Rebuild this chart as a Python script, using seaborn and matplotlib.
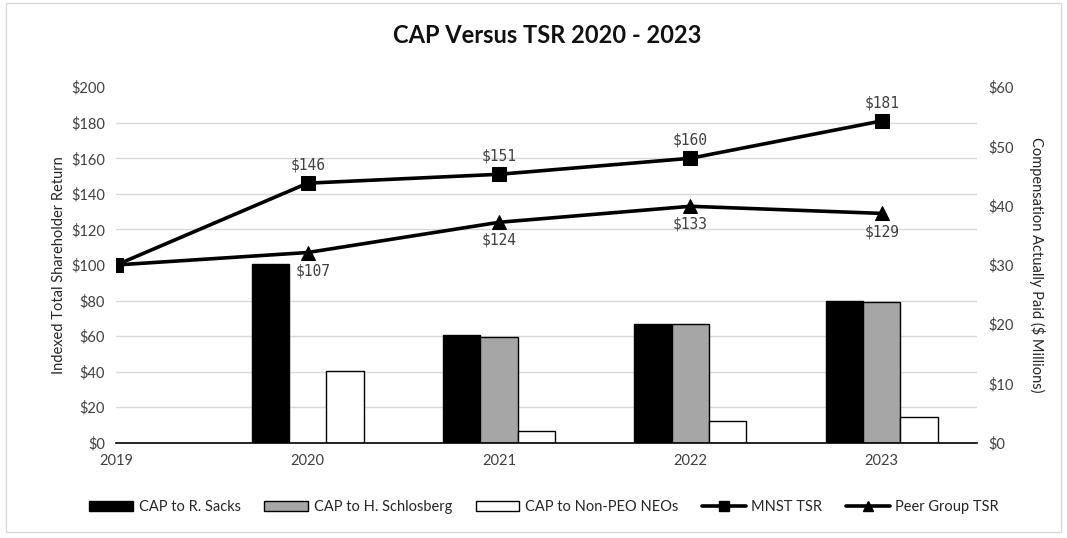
import matplotlib
matplotlib.use("Agg")
import matplotlib.pyplot as plt
import matplotlib.patches as mpatches
from matplotlib.lines import Line2D
import seaborn as sns
import pandas as pd
import numpy as np

years = ["2019", "2020", "2021", "2022", "2023"]
cap_sacks = [np.nan, 30.2, 18.1, 20.1, 24.0]
cap_schlosberg = [np.nan, np.nan, 17.9, 20.1, 23.7]
cap_neos = [np.nan, 12.1, 2.0, 3.7, 4.3]
mnst_tsr = [100, 146, 151, 160, 181]
peer_tsr = [100, 107, 124, 133, 129]
bar_series = ["CAP to R. Sacks", "CAP to H. Schlosberg", "CAP to Non-PEO NEOs"]
bar_colors = ["#000000", "#a6a6a6", "#ffffff"]

sns.set_theme(style="white")
plt.rcParams["font.family"] = ["Lato", "DejaVu Sans"]

rows = []
for name, vals in zip(bar_series, [cap_sacks, cap_schlosberg, cap_neos]):
    for y, v in zip(years, vals):
        rows.append({"year": y, "series": name, "value": v})
bars_df = pd.DataFrame(rows)

fig = plt.figure(figsize=(10.67, 5.38), dpi=100)
ax = fig.add_axes([0.109, 0.177, 0.807, 0.661])
ax2 = ax.twinx()

sns.barplot(data=bars_df, x="year", y="value", hue="series", order=years,
            hue_order=bar_series, palette=bar_colors, width=0.585,
            edgecolor="black", linewidth=1.0, ax=ax2, legend=False, errorbar=None)

xpos = np.arange(len(years))
line_df = pd.DataFrame({"x": xpos, "MNST TSR": mnst_tsr, "Peer Group TSR": peer_tsr})
sns.lineplot(data=line_df, x="x", y="MNST TSR", ax=ax, color="black", lw=2.6,
             marker="s", markersize=9.5, markeredgecolor="black")
sns.lineplot(data=line_df, x="x", y="Peer Group TSR", ax=ax, color="black", lw=2.6,
             marker="^", markersize=9.5, markeredgecolor="black")

for i in range(1, len(years)):
    ax.text(xpos[i], mnst_tsr[i] + 6, f"${mnst_tsr[i]}", ha="center", va="bottom",
            fontsize=10.5, color="#404040", family="DejaVu Sans Mono")
    dx = 0.03 if i == 1 else 0
    ax.text(xpos[i] + dx, peer_tsr[i] - 6, f"${peer_tsr[i]}", ha="center", va="top",
            fontsize=10.5, color="#404040", family="DejaVu Sans Mono")

ax.set_zorder(ax2.get_zorder() + 1)
ax.patch.set_visible(False)

ax.set_xlim(0, 4.5)
ax.set_ylim(0, 200)
ax2.set_ylim(0, 60)
ax.set_yticks(range(0, 201, 20))
ax.set_yticklabels([f"${v}" for v in range(0, 201, 20)], fontsize=10.5, color="#404040")
ax2.set_yticks(range(0, 61, 10))
ax2.set_yticklabels([f"${v}" for v in range(0, 61, 10)], fontsize=10.5, color="#404040")
ax2.set_yticks(range(0, 61, 6), minor=True)
ax.set_xticks(xpos)
ax.set_xticklabels(years, fontsize=10.5, color="#404040")
ax.tick_params(axis="both", which="both", length=0, pad=8)
ax2.tick_params(axis="both", which="both", length=0, pad=8)
ax2.set_xlabel("")
ax.set_xlabel("")
ax.set_ylabel("Indexed Total Shareholder Return", fontsize=10.5, color="#262626")
ax2.set_ylabel("Compensation Actually Paid ($ Millions)", fontsize=10.5, color="#262626",
               rotation=270, labelpad=22)

ax.grid(False)
ax2.grid(axis="y", which="minor", color="#d9d9d9", lw=1)
ax2.set_axisbelow(True)
for a in (ax, ax2):
    for s in a.spines.values():
        s.set_visible(False)
ax.spines["bottom"].set_visible(True)
ax.spines["bottom"].set_color("black")
ax.spines["bottom"].set_linewidth(1.2)

fig.suptitle("CAP Versus TSR 2020 - 2023", fontsize=17, fontweight="bold", y=0.955,
             x=0.513, color="#111111")

handles = [mpatches.Patch(facecolor=c, edgecolor="black", label=l)
           for c, l in zip(bar_colors, bar_series)]
handles.append(Line2D([0], [0], color="black", lw=2.6, marker="s", markersize=7, label="MNST TSR"))
handles.append(Line2D([0], [0], color="black", lw=2.6, marker="^", markersize=7, label="Peer Group TSR"))
fig.legend(handles=handles, loc="center", bbox_to_anchor=(0.51, 0.057), ncol=5,
           frameon=False, fontsize=10.5, handlelength=3.0, columnspacing=1.6,
           handletextpad=0.4)

fig.patches.append(mpatches.Rectangle((0.006, 0.012), 0.988, 0.982, transform=fig.transFigure,
                                      fill=False, edgecolor="#d9d9d9", lw=1))

fig.savefig("out.png", dpi=100, facecolor="white")
